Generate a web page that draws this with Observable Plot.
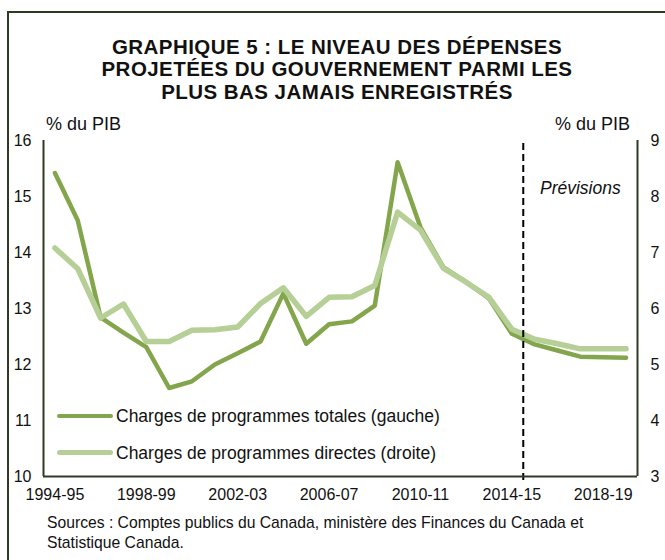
<!DOCTYPE html>
<html>
<head>
<meta charset="utf-8">
<script src="https://cdn.jsdelivr.net/npm/d3@7"></script>
<script src="https://cdn.jsdelivr.net/npm/@observablehq/plot@0.6"></script>
<style>
  html, body { margin: 0; padding: 0; background: #fff; overflow: hidden; }
  #wrap { position: relative; width: 665px; height: 560px; overflow: hidden;
          font-family: "Liberation Sans", Arial, sans-serif; color: #111; }
  #wrap svg { position: absolute; left: 0; top: 0; }
  .abs { position: absolute; white-space: nowrap; line-height: 1.149; }
  #border { position: absolute; left: 7px; top: 11px; width: 700px; height: 600px;
            border-left: 2px solid #2f3b21; border-top: 2px solid #2f3b21; }
  #title { left: 9px; width: 656px; top: 36px; text-align: center; font-weight: bold;
           font-size: 20.5px; line-height: 22.3px; letter-spacing: 0.45px; }
  .swatch { position: absolute; left: 57px; width: 56px; border-radius: 3px; }
</style>
</head>
<body>
<div id="wrap">
  <div id="border"></div>
  <div id="title" class="abs">GRAPHIQUE 5 : LE NIVEAU DES DÉPENSES<br>PROJETÉES DU GOUVERNEMENT PARMI LES<br>PLUS BAS JAMAIS ENREGISTRÉS</div>
</div>
<script>
// ---- data ----
const years = ["1994-95","1995-96","1996-97","1997-98","1998-99","1999-00","2000-01","2001-02",
  "2002-03","2003-04","2004-05","2005-06","2006-07","2007-08","2008-09","2009-10","2010-11",
  "2011-12","2012-13","2013-14","2014-15","2015-16","2016-17","2017-18","2018-19","2019-20"];
// Charges de programmes totales (gauche), % du PIB
const totalCharges = [15.42,14.57,12.84,12.57,12.31,11.58,11.70,12.00,12.20,12.41,13.27,12.37,12.72,
  12.77,13.05,15.61,14.45,13.74,13.47,13.18,12.55,12.36,12.25,12.14,12.13,12.12];
// Charges de programmes directes (droite), % du PIB
const directCharges = [7.08,6.71,5.83,6.08,5.41,5.41,5.61,5.62,5.67,6.09,6.37,5.86,6.20,6.21,6.41,
  7.72,7.40,6.72,6.47,6.20,5.63,5.45,5.37,5.28,5.28,5.28];
const leftTicks = [10,11,12,13,14,15,16];
const rightTicks = [3,4,5,6,7,8,9];
const xTickLabels = ["1994-95","1998-99","2002-03","2006-07","2010-11","2014-15","2018-19"];
const firstForecastYear = "2015-16";
const legendLabels = ["Charges de programmes totales (gauche)", "Charges de programmes directes (droite)"];
const axisLabel = "% du PIB";
const forecastLabel = "Prévisions";
const sourceText = "Sources : Comptes publics du Canada, ministère des Finances du Canada et<br>Statistique Canada.";

// ---- styles ----
const darkGreen = "#83a64c";
const lightGreen = "#b5cf96";
const axisColor = "#2f3b21";
const font = "'Liberation Sans', Arial, sans-serif";

const table = years.map((y, i) => ({i, year: y, total: totalCharges[i], direct: directCharges[i]}));
const xDomain = [-0.5, years.length - 0.5];
const xTickIdx = xTickLabels.map(l => years.indexOf(l));
const forecastX = years.indexOf(firstForecastYear) - 0.5;

const common = {
  width: 665, height: 560,
  marginLeft: 43, marginRight: 28, marginTop: 140, marginBottom: 84,
  x: {domain: xDomain, axis: null},
  style: {fontFamily: font, fontSize: "16px", color: "#111", background: "transparent", overflow: "visible"}
};

const back = Plot.plot({
  ...common,
  y: {domain: [leftTicks[0], leftTicks[leftTicks.length - 1]], axis: null},
  marks: [
    Plot.axisY(leftTicks, {tickSize: 0, tickPadding: 12, tickFormat: d => String(d), label: null}),
    Plot.axisX(xTickIdx, {tickSize: 0, tickPadding: 12, tickFormat: i => years[i], label: null}),
    Plot.line(table, {x: "i", y: "total", stroke: darkGreen, strokeWidth: 4.5, strokeLinejoin: "round", strokeLinecap: "round"})
  ]
});

const front = Plot.plot({
  ...common,
  y: {domain: [rightTicks[0], rightTicks[rightTicks.length - 1]], axis: null},
  marks: [
    Plot.axisY(rightTicks, {anchor: "right", tickSize: 0, tickPadding: 13, tickFormat: d => String(d), label: null}),
    Plot.line(table, {x: "i", y: "direct", stroke: lightGreen, strokeWidth: 5.5, strokeLinejoin: "round", strokeLinecap: "round"}),
    Plot.ruleX([forecastX], {stroke: "#000", strokeWidth: 2, strokeDasharray: "7,4", insetTop: 3, insetBottom: -5}),
    Plot.ruleX([xDomain[0]], {stroke: axisColor, strokeWidth: 2}),
    Plot.ruleX([xDomain[1]], {stroke: axisColor, strokeWidth: 2}),
    Plot.ruleY([rightTicks[0]], {stroke: axisColor, strokeWidth: 2})
  ]
});

const wrap = document.getElementById("wrap");
wrap.appendChild(back);
wrap.appendChild(front);

function addText(html, css) {
  const d = document.createElement("div");
  d.className = "abs";
  d.innerHTML = html;
  Object.assign(d.style, css);
  wrap.appendChild(d);
  return d;
}
addText(axisLabel, {left: "46px", top: "113.5px", fontSize: "18px"});
addText(axisLabel, {right: "35px", top: "113.5px", fontSize: "18px"});
addText(forecastLabel, {left: "540px", top: "177.5px", fontSize: "17.5px", fontStyle: "italic"});
addText(legendLabels[0], {left: "116px", top: "406px", fontSize: "17.5px"});
addText(legendLabels[1], {left: "116px", top: "443px", fontSize: "17.5px"});
addText(sourceText, {left: "47px", top: "512.5px", fontSize: "15.7px", lineHeight: "20px"});

[[darkGreen, 413.5, 4.5], [lightGreen, 449.5, 5.5]].forEach(([c, top, h]) => {
  const s = document.createElement("div");
  s.className = "swatch";
  Object.assign(s.style, {background: c, top: top + "px", height: h + "px"});
  wrap.appendChild(s);
});
</script>
</body>
</html>
